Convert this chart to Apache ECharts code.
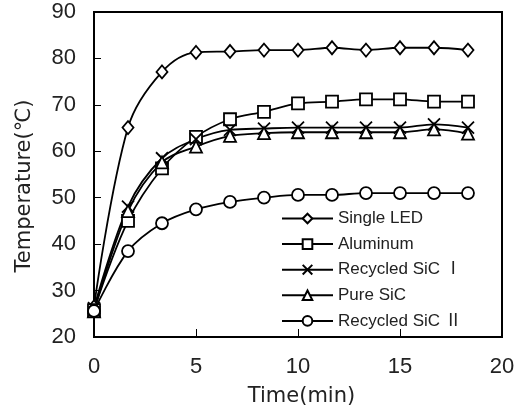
<!DOCTYPE html>
<html>
  <head>
    <meta charset="utf-8" />
    <title>Temperature vs time</title>
    <script src="https://cdn.jsdelivr.net/npm/echarts@6/dist/echarts.min.js"></script>
    <style>
      html, body { margin: 0; padding: 0; background: #fff; }
      #main { width: 522px; height: 414px; }
    </style>
  </head>
  <body>
    <div id="main"></div>
    <script type="text/javascript">
      // time (min), one reading every 100 s
      var timeMin = [0, 1.667, 3.333, 5, 6.667, 8.333, 10, 11.667, 13.333, 15, 16.667, 18.333];

      var singleLed = [26.5, 65.1, 77.1, 81.3, 81.5, 81.8, 81.8, 82.3, 81.8, 82.3, 82.3, 81.8];
      var aluminum = [25.8, 45.0, 56.3, 63.1, 66.9, 68.5, 70.3, 70.7, 71.2, 71.2, 70.7, 70.7];
      var recycled1 = [26.2, 48.1, 58.5, 62.6, 64.6, 64.9, 65.1, 65.1, 65.1, 65.1, 65.8, 65.1];
      var pureSic = [25.5, 47.1, 57.6, 61.0, 63.3, 63.9, 64.1, 64.1, 64.1, 64.1, 64.7, 63.8];
      var recycled2 = [25.6, 38.5, 44.5, 47.5, 49.1, 50.0, 50.6, 50.6, 51.0, 51.0, 51.0, 51.0];

      var names = ["Single LED", "Aluminum", "Recycled SiC Ⅰ", "Pure SiC", "Recycled SiC Ⅱ"];

      function pairs(arr) {
        var out = [];
        for (var i = 0; i < arr.length; i++) {
          out.push([timeMin[i], arr[i]]);
        }
        return out;
      }

      var font = "'Liberation Sans', Arial, 'Noto Sans CJK KR', sans-serif";
      var titleFont = "'DejaVu Sans', 'Noto Sans CJK KR', sans-serif";

      function mkSeries(name, arr, symbol, size) {
        return {
          name: name,
          type: "line",
          smooth: 0.35,
          symbol: symbol,
          symbolSize: size,
          showAllSymbol: true,
          lineStyle: { color: "#000", width: 1.8 },
          itemStyle: { color: "#fff", borderColor: "#000", borderWidth: 1.8 },
          emphasis: { disabled: true },
          data: pairs(arr),
        };
      }

      var chart = echarts.init(document.getElementById("main"));
      var option = {
        animation: false,
        textStyle: { fontFamily: font },
        grid: {
          left: 94,
          top: 12,
          right: 20,
          bottom: 77,
          show: true,
          borderColor: "#000",
          borderWidth: 2,
        },
        legend: {
          orient: "vertical",
          left: 276,
          top: 205,
          itemWidth: 51,
          itemHeight: 12,
          itemGap: 8.6,
          data: names,
          textStyle: { fontSize: 17, color: "#222", fontFamily: font, lineHeight: 17 },
        },
        xAxis: {
          type: "value",
          min: 0,
          max: 20,
          interval: 5,
          name: "Time(min)",
          nameLocation: "middle",
          nameGap: 49,
          nameTextStyle: { fontSize: 21, color: "#222", fontFamily: titleFont, padding: [0, 0, 0, 7] },
          axisLine: { lineStyle: { color: "#000", width: 2 } },
          axisTick: { inside: true, length: 8, lineStyle: { color: "#000", width: 1 } },
          axisLabel: { fontSize: 22, color: "#222", margin: 19 },
          splitLine: { show: false },
        },
        yAxis: {
          type: "value",
          min: 20,
          max: 90,
          interval: 10,
          name: "Temperature(℃)",
          nameLocation: "middle",
          nameGap: 59,
          nameTextStyle: { fontSize: 21, color: "#222", fontFamily: titleFont, padding: [0, 23, 0, 0] },
          axisLine: { show: true, lineStyle: { color: "#000", width: 2 } },
          axisTick: { show: true, inside: true, length: 7, lineStyle: { color: "#000", width: 1 } },
          axisLabel: { fontSize: 22, color: "#222", margin: 18 },
          splitLine: { show: false },
        },
        series: [
          mkSeries(names[0], singleLed, "diamond", [11, 13]),
          mkSeries(names[1], aluminum, "rect", 12),
          mkSeries(names[2], recycled1, "path://M0,0L10,10M10,0L0,10", 12),
          mkSeries(names[3], pureSic, "triangle", 12),
          mkSeries(names[4], recycled2, "circle", 12),
        ],
      };
      chart.setOption(option);
    </script>
  </body>
</html>
